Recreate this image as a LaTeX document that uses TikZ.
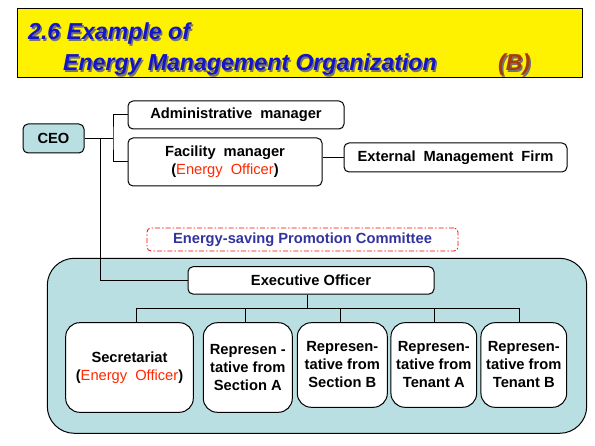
\documentclass[tikz,border=0pt]{standalone}
\usepackage{fontspec}
\setmainfont{Liberation Sans}
\definecolor{tealfill}{RGB}{185,223,226}
\definecolor{eored}{RGB}{255,40,0}
\definecolor{titleblue}{RGB}{20,20,200}
\definecolor{titlebrown}{RGB}{165,60,10}
\definecolor{cmtblue}{RGB}{51,51,160}
\newcommand{\wsp}{\hspace{8pt}}
\newcommand{\eoff}{(\textcolor{eored}{\mdseries Energy\wsp Officer})}
\begin{document}
\begin{tikzpicture}[x=1pt,y=-1pt,
 txt/.style={font=\fontsize{14.7}{18}\selectfont\bfseries, align=center, text=black},
 box/.style={txt, draw=black, line width=1pt, fill=white, rounded corners=5pt, inner sep=0pt},
 bigbox/.style={box, rounded corners=14pt},
 conn/.style={line width=1pt, draw=black},
 ttl/.style={font=\fontsize{23.1}{28}\selectfont\bfseries\itshape, anchor=base west, inner sep=0pt},
]
\useasboundingbox (0,0) rectangle (595,446);
% title
\node[draw=black, line width=1.2pt, fill=yellow, minimum width=565pt, minimum height=69pt, inner sep=0pt] (titlebox) at (300,43) {};
\node[ttl, text=black!55] (t1s) at (29.5,41.5) {2.6 Example of};
\node[ttl, text=titleblue] (t1) at (28,40) {2.6 Example of};
\node[ttl, text=black!55] (t2s) at (64.5,72.5) {Energy Management Organization};
\node[ttl, text=titleblue] (t2) at (63,71) {Energy Management Organization};
\node[ttl, text=black!55] (t3s) at (499.5,72.5) {(B)};
\node[ttl, text=titlebrown] (t3) at (498,71) {(B)};
% committee area
\node[draw=black, line width=1pt, fill=tealfill, rounded corners=27pt, minimum width=539.4pt, minimum height=175pt, inner sep=0pt] (area) at (317,345.8) {};
\node[txt, text=cmtblue, draw=red, line width=0.8pt, dash pattern=on 5pt off 2pt on 1.5pt off 2pt, rounded corners=4pt, minimum width=311pt, minimum height=23pt, inner sep=0pt] (cmt) at (302.5,239.5) {Energy-saving Promotion Committee};
% boxes
\node[box, fill=tealfill, minimum width=61pt, minimum height=29pt] (ceo) at (53.5,138.5) {CEO};
\node[box, minimum width=216pt, minimum height=28pt] (admin) at (236,115) {Administrative\wsp manager};
\node[box, minimum width=194pt, minimum height=48pt] (fac) at (225,162) {Facility\wsp manager\\\eoff};
\node[box, minimum width=223pt, minimum height=29pt] (ext) at (455.5,157.5) {External\wsp Management\wsp Firm};
\node[box, minimum width=246pt, minimum height=27.3pt] (exec) at (311,280.4) {Executive Officer};
\node[bigbox, minimum width=127.6pt, minimum height=89.6pt] (sec) at (129.5,367.5) {Secretariat\\\eoff};
\node[bigbox, minimum width=89pt, minimum height=89.6pt] (repA) at (247.8,367.5) {Represen -\\tative from\\Section A};
\node[bigbox, minimum width=90pt, minimum height=84.6pt] (repB) at (342.3,365) {Represen-\\tative from\\Section B};
\node[bigbox, minimum width=85.7pt, minimum height=84.6pt] (tenA) at (433.8,365) {Represen-\\tative from\\Tenant A};
\node[bigbox, minimum width=85.7pt, minimum height=84.6pt] (tenB) at (523.8,365) {Represen-\\tative from\\Tenant B};
% connectors
\coordinate (j1) at (113,138.5);
\coordinate (j2) at (100,138.5);
\draw[conn] (ceo.east) -- (j1);
\draw[conn] (admin.west) -| (j1) |- (fac.west);
\draw[conn] (j2) |- (exec.west);
\draw[conn] (fac.east |- ext.west) -- (ext.west);
\coordinate (bus) at (307,308.3);
\draw[conn] (exec.south -| bus) -- (bus);
\coordinate (d1) at (136.7,308.3);
\coordinate (d2) at (245,308.3);
\coordinate (d3) at (340.7,308.3);
\coordinate (d4) at (434.3,308.3);
\coordinate (d5) at (519.3,308.3);
\draw[conn] (d1) -- (d5);
\foreach \d/\n in {d1/sec, d2/repA, d3/repB, d4/tenA, d5/tenB}
  \draw[conn] (\d) -- (\d |- \n.north);
\end{tikzpicture}
\end{document}
